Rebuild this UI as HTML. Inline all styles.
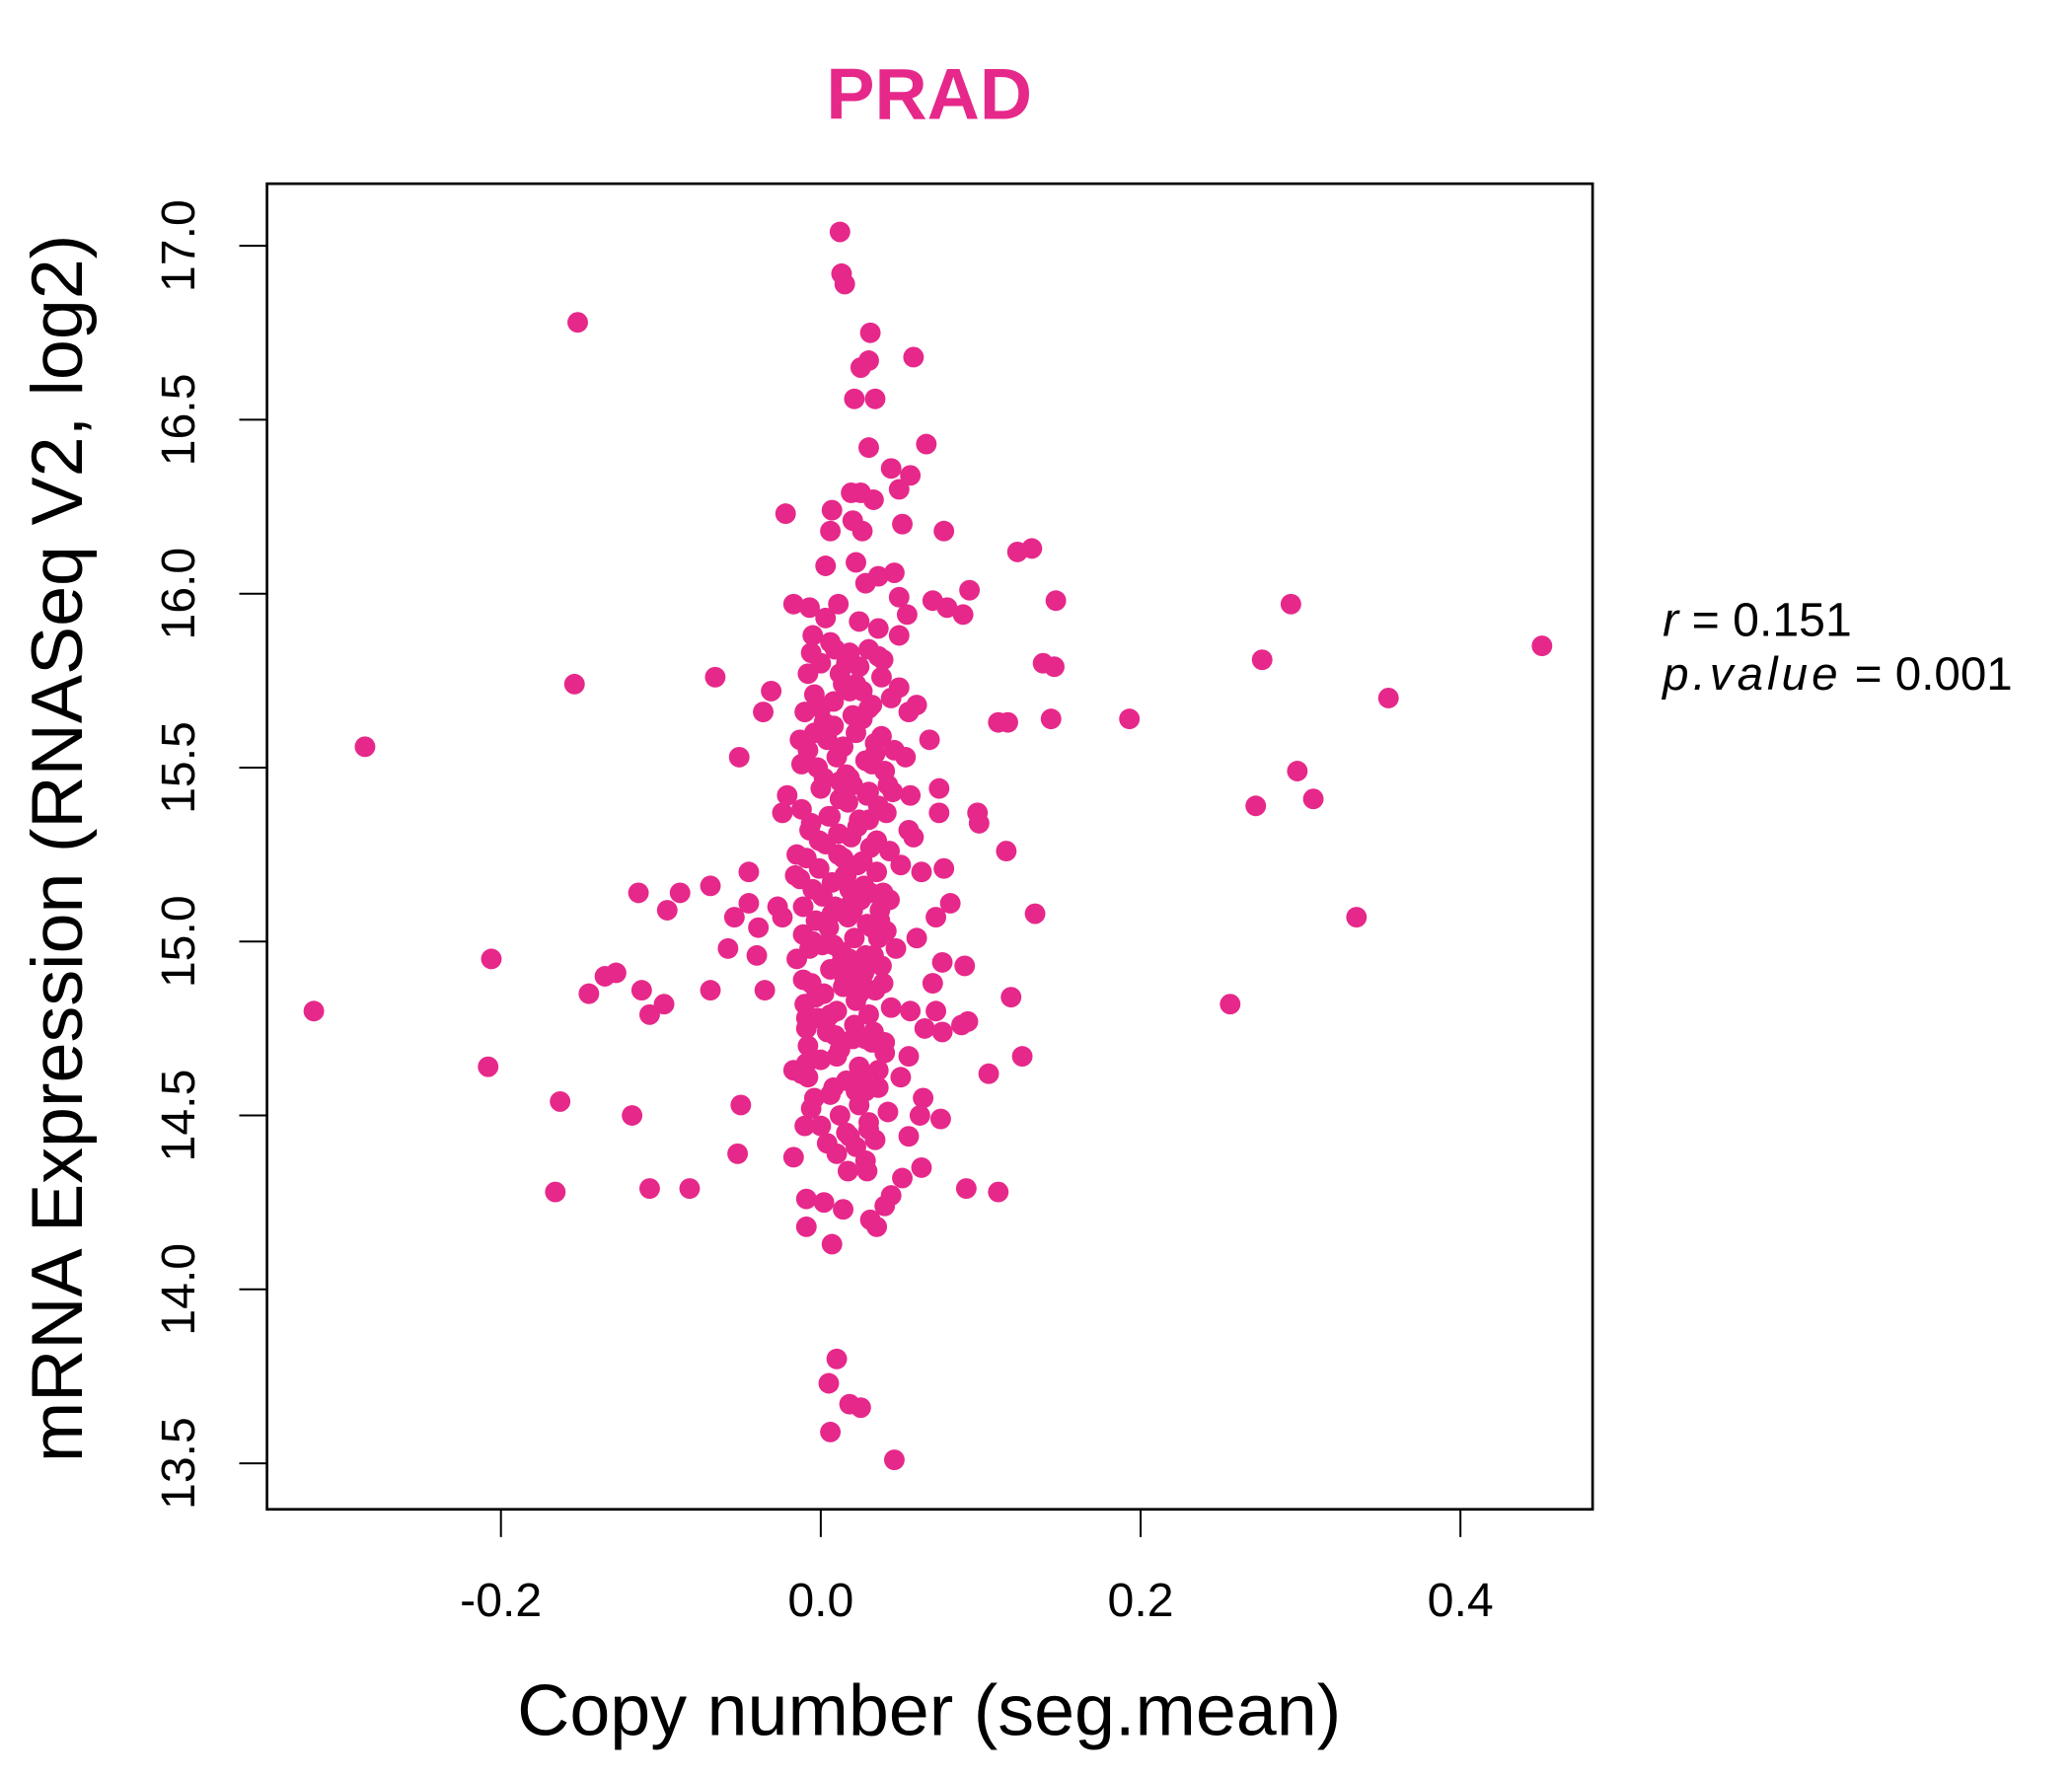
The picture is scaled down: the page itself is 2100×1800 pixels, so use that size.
<!DOCTYPE html>
<html><head><meta charset="utf-8"><style>
html,body{margin:0;padding:0;background:#fff;}
svg{display:block;}
text{font-family:"Liberation Sans",Arial,sans-serif;}
</style></head><body>
<svg id="chart" width="2100" height="1800" viewBox="0 0 1567.7 1343.8" xmlns="http://www.w3.org/2000/svg">
<rect x="0" y="0" width="1567.7" height="1343.8" fill="#fff"/>
<text x="703" y="90" font-size="55" font-weight="bold" fill="#E6288A" text-anchor="middle">PRAD</text>
<g id="points"></g>
<rect x="202" y="139" width="1003" height="1003" fill="none" stroke="#000" stroke-width="2"/>
<g id="xaxis"></g>
<g id="yaxis"></g>
<text x="703" y="1313" font-size="55" text-anchor="middle">Copy number (seg.mean)</text>
<text transform="translate(62,642) rotate(-90)" font-size="55" text-anchor="middle">mRNA Expression (RNASeq V2, log2)</text>
<text x="1258" y="481" font-size="36"><tspan font-style="italic">r</tspan> = 0.151</text>
<text x="1258" y="522" font-size="35.5"><tspan font-style="italic" letter-spacing="3">p.value</tspan> = 0.001</text>
</svg>
<script>
const xTicks = [-0.2, 0.0, 0.2, 0.4];
const xTickLabels = ["-0.2", "0.0", "0.2", "0.4"];
const yTicks = [13.5, 14.0, 14.5, 15.0, 15.5, 16.0, 16.5, 17.0];
const yTickLabels = ["13.5", "14.0", "14.5", "15.0", "15.5", "16.0", "16.5", "17.0"];
const outlierX = [.012,.013,.015,-.152,.031,.030,.025,.058,.021,.034,.066,.030,.044,.056,.049,-.022,.007,.025,.033,.019,.051,.077,.006,.020,.026,.123,.132,.003,.022,.036,.046,.028,.093,.147,-.017,-.007,.011,.049,.070,.079,.089,.294,.003,.054,-.005,.049,-.006,.009,.451,.276,.139,.146,.016,.039,-.008,-.066,-.154,.355,-.031,.049,.060,0,-.036,.055,.111,.117,.144,.193,-.285,-.051,-.013,.068,.053,.298,-.012,-.021,.074,.045,.056,.272,.308,-.024,.074,.098,.099,.055,.058,.116,-.015,-.045,.077,.063,-.016,-.114,-.088,-.069,.081,-.045,-.027,-.096,-.054,-.024,.072,.134,.335,-.039,.060,-.058,-.040,-.206,-.015,.076,.090,-.128,-.135,-.011,.070,-.069,-.112,-.035,-.145,.119,.256,-.098,.056,-.317,-.107,.072,-.009,.092,.088,.065,.076,-.208,-.009,.055,.126,.105,-.017,.050,-.008,-.163,-.050,.064,-.118,.075,.062,-.010,.030,.055,-.052,-.017,.063,.017,.029,.051,-.166,-.107,-.082,.091,.111,-.009,.002,.040,.044,.014,.031,.035,-.009,.007,.010,.005,.018,.025,.006,.046];
const outlierY = [17.04,16.92,16.89,16.78,16.75,16.67,16.65,16.68,16.56,16.56,16.43,16.42,16.36,16.34,16.30,16.23,16.24,16.29,16.27,16.29,16.20,16.18,16.18,16.21,16.18,16.12,16.13,16.08,16.09,16.05,16.06,16.03,16.01,15.98,15.97,15.96,15.97,15.99,15.98,15.96,15.94,15.97,15.93,15.94,15.88,15.88,15.83,15.84,15.85,15.81,15.80,15.79,15.80,15.81,15.77,15.76,15.74,15.70,15.72,15.73,15.68,15.67,15.66,15.66,15.63,15.63,15.64,15.64,15.56,15.53,15.58,15.58,15.53,15.49,15.51,15.42,15.44,15.43,15.42,15.39,15.41,15.37,15.37,15.37,15.34,15.32,15.30,15.26,15.25,15.20,15.21,15.20,15.19,15.14,15.14,15.16,15.11,15.11,15.10,15.09,15.07,15.07,15.07,15.08,15.07,15.04,15.01,14.98,14.96,14.95,14.95,14.94,14.93,14.91,14.90,14.89,14.88,14.86,14.86,14.86,14.85,14.84,14.82,14.82,14.80,14.80,14.79,14.80,14.78,14.77,14.76,14.75,14.74,14.64,14.65,14.67,14.67,14.62,14.63,14.61,14.61,14.54,14.53,14.55,14.50,14.49,14.50,14.47,14.46,14.44,14.39,14.38,14.35,14.34,14.34,14.32,14.28,14.29,14.29,14.29,14.28,14.26,14.25,14.24,14.27,14.23,14.20,14.18,14.18,14.13,13.80,13.73,13.67,13.66,13.59,13.51];
const coreX = [-.012,-.008,-.004,0,.004,.008,.012,.016,.020,.024,.028,.032,.036,.040,-.010,-.006,-.002,.002,.006,.010,.014,.018,.022,.026,.030,.034,.038,.044,-.011,-.007,-.003,.001,.005,.009,.013,.017,.021,.025,.029,.033,.037,.041,.047,-.013,-.009,-.005,-.001,.003,.007,.011,.015,.019,.023,.027,.031,.035,.039,.043,.050,-.012,-.006,0,.006,.012,.018,.024,.030,.036,.042,-.008,-.002,.004,.010,.016,.022,.028,.034,.040,.046,-.010,-.004,.002,.008,.014,.020,.026,.032,.038,.044,-.006,0,.006,.012,.018,.024,.030,.036,.042,-.009,-.003,.003,.009,.015,.021,.027,.033,.039,-.011,-.005,.001,.007,.013,.019,.025,.031,.037,.043,-.007,-.001,.005,.011,.017,.023,.029,.035,.041,-.004,.002,.008,.014,.020,.026,.032,.038,.000,.006,.012,.018,.024,.030,.036,.004,.010,.016,.022,.028,.034,.008,.014,.020,.026,.032,.040,.012,.018,.024,.030,.036,.010,.016,.022,.028,.006,.014,.020,.026,.034,.018,.024,.030,.036,.022,.028];
const coreY = [14.62,14.70,14.55,14.66,14.74,14.58,14.69,14.60,14.72,14.64,14.57,14.71,14.63,14.68,14.82,14.88,14.78,14.85,14.92,14.80,14.87,14.95,14.83,14.90,14.79,14.86,14.93,14.81,15.02,14.98,15.06,14.99,15.04,15.10,14.97,15.07,15.01,15.12,15.05,14.96,15.09,15.03,14.98,15.18,15.24,15.15,15.21,15.28,15.17,15.25,15.19,15.30,15.22,15.16,15.27,15.20,15.14,15.26,15.22,15.38,15.34,15.44,15.36,15.41,15.47,15.35,15.43,15.39,15.45,15.55,15.50,15.58,15.53,15.48,15.60,15.52,15.57,15.49,15.55,15.66,15.71,15.63,15.69,15.74,15.65,15.72,15.68,15.76,15.70,14.52,14.47,14.56,14.50,14.44,14.53,14.48,14.58,14.51,14.75,14.84,14.77,14.73,14.89,14.76,14.91,14.74,14.88,15.10,15.00,15.13,15.08,14.94,15.11,14.93,15.14,15.06,15.12,15.32,15.29,15.36,15.31,15.40,15.33,15.42,15.29,15.37,15.60,15.47,15.62,15.56,15.45,15.64,15.51,15.59,15.80,15.86,15.77,15.83,15.79,15.84,15.82,14.42,14.39,14.45,14.41,14.37,14.43,14.99,15.18,14.90,15.23,15.04,14.71,15.46,15.15,14.85,15.35,15.01,14.67,15.19,14.57,14.96,14.79,15.24,15.09,14.60,15.54,15.72,15.92,15.67,15.90,15.74,14.72];

const L = 202, R = 1205, T = 139, B = 1142;
function sx(v){ return 621 + v * 1210; }
function sy(v){ return 186 + (17.0 - v) * 263.2; }
const NS = "http://www.w3.org/2000/svg";
const pts = document.getElementById("points");
function addPoint(xv, yv){
  if (xv === undefined || yv === undefined) return;
  const c = document.createElementNS(NS, "circle");
  c.setAttribute("cx", sx(xv));
  c.setAttribute("cy", sy(yv));
  c.setAttribute("r", 7.8);
  c.setAttribute("fill", "#E6288A");
  
  
  pts.appendChild(c);
}
for (let i = 0; i < Math.min(outlierX.length, outlierY.length); i++) addPoint(outlierX[i], outlierY[i]);
for (let i = 0; i < Math.min(coreX.length, coreY.length); i++) addPoint(coreX[i], coreY[i]);

const xa = document.getElementById("xaxis");
xTicks.forEach((t, i) => {
  const ln = document.createElementNS(NS, "line");
  ln.setAttribute("x1", sx(t)); ln.setAttribute("x2", sx(t));
  ln.setAttribute("y1", B); ln.setAttribute("y2", B + 21);
  ln.setAttribute("stroke", "#000"); ln.setAttribute("stroke-width", "1.5");
  
  
  xa.appendChild(ln);
  const tx = document.createElementNS(NS, "text");
  tx.setAttribute("x", sx(t)); tx.setAttribute("y", 1223);
  tx.setAttribute("font-size", "36"); tx.setAttribute("text-anchor", "middle");
  tx.textContent = xTickLabels[i];
  
  
  xa.appendChild(tx);
});
const ya = document.getElementById("yaxis");
yTicks.forEach((t, i) => {
  const ln = document.createElementNS(NS, "line");
  ln.setAttribute("x1", L - 21); ln.setAttribute("x2", L);
  ln.setAttribute("y1", sy(t)); ln.setAttribute("y2", sy(t));
  ln.setAttribute("stroke", "#000"); ln.setAttribute("stroke-width", "1.5");
  
  
  ya.appendChild(ln);
  const tx = document.createElementNS(NS, "text");
  tx.setAttribute("transform", "translate(147," + sy(t) + ") rotate(-90)");
  tx.setAttribute("font-size", "36"); tx.setAttribute("text-anchor", "middle");
  tx.textContent = yTickLabels[i];
  
  
  ya.appendChild(tx);
});
</script>
</body></html>
